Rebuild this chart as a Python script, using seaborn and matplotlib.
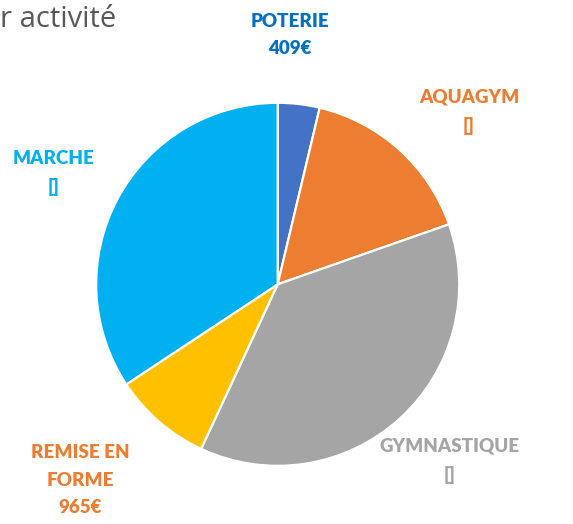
import matplotlib
matplotlib.use("Agg")
import matplotlib.pyplot as plt
import seaborn as sns

# data (amount per activity, in euros)
activites = ["POTERIE", "AQUAGYM", "GYMNASTIQUE", "REMISE EN\nFORME", "MARCHE"]
montants = [409, 1750, 4100, 965, 3770]
etiquettes_valeur = ["409€", "[]", "[]", "965€", "[]"]

couleurs = ["#4472C4", "#ED7D31", "#A5A5A5", "#FFC000", "#00B0F0"]
couleurs_texte = ["#0070C0", "#ED7D31", "#A5A5A5", "#ED7D31", "#00B0F0"]

sns.set_style("white")
plt.rcParams["font.family"] = ["Lato", "DejaVu Sans"]

W, H = 573, 524
fig = plt.figure(figsize=(W / 100, H / 100), dpi=100)
ax = fig.add_axes([0, 0, 1, 1])

wedges, _ = ax.pie(montants, colors=couleurs, startangle=90, counterclock=False,
                   wedgeprops=dict(edgecolor="white", linewidth=1.6))

# pixel layout: pie centre and radius
cx, cy, r = 277.7, 284.3, 181.5
ax.set_aspect("auto")
ax.set_xlim(-cx / r, (W - cx) / r)
ax.set_ylim(-(H - cy) / r, cy / r)
ax.axis("off")

# label centres in pixels (Excel best-fit placement)
pos_labels = [(290, 35), (469, 112), (450, 461), (80, 480), (54, 173)]
for nom, val, col, (px, py) in zip(activites, etiquettes_valeur, couleurs_texte, pos_labels):
    ax.text((px - cx) / r, (cy - py) / r, nom + "\n" + val, ha="center", va="center",
            color=col, fontsize=13.5, fontweight="heavy", linespacing=1.75)

fig.text(0.0, 1 - 27 / H, "r activité", ha="left", va="baseline",
         fontsize=21, color="#595959", family=["Open Sans", "DejaVu Sans"])

fig.savefig("out.png", dpi=100)
